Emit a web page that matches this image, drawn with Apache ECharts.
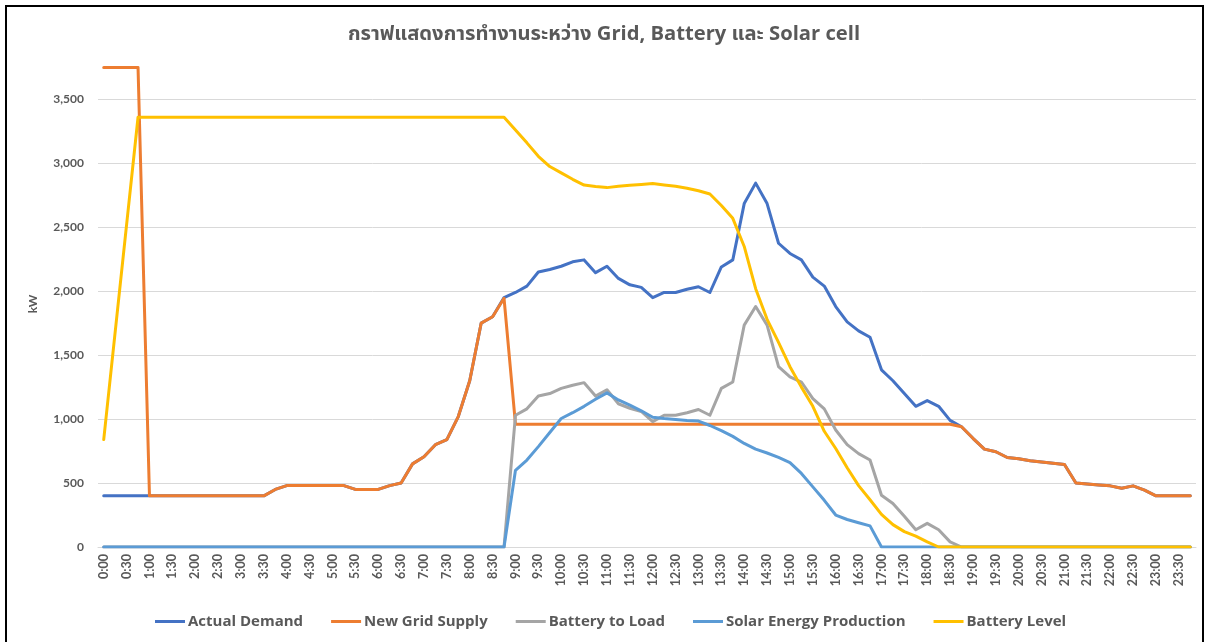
<!DOCTYPE html>
<html>
<head>
<meta charset="utf-8">
<script src="https://cdn.jsdelivr.net/npm/echarts@6/dist/echarts.min.js"></script>
<style>
html,body{margin:0;padding:0;background:#fff;}
#chart{width:1208px;height:642px;}
</style>
</head>
<body>
<div id="chart"></div>
<script>
const categories = ["0:00","0:15","0:30","0:45","1:00","1:15","1:30","1:45","2:00","2:15","2:30","2:45","3:00","3:15","3:30","3:45","4:00","4:15","4:30","4:45","5:00","5:15","5:30","5:45","6:00","6:15","6:30","6:45","7:00","7:15","7:30","7:45","8:00","8:15","8:30","8:45","9:00","9:15","9:30","9:45","10:00","10:15","10:30","10:45","11:00","11:15","11:30","11:45","12:00","12:15","12:30","12:45","13:00","13:15","13:30","13:45","14:00","14:15","14:30","14:45","15:00","15:15","15:30","15:45","16:00","16:15","16:30","16:45","17:00","17:15","17:30","17:45","18:00","18:15","18:30","18:45","19:00","19:15","19:30","19:45","20:00","20:15","20:30","20:45","21:00","21:15","21:30","21:45","22:00","22:15","22:30","22:45","23:00","23:15","23:30","23:45"];

const gridSupply = [3750,3750,3750,3750,400,400,400,400,400,400,400,400,400,400,400,450,480,480,480,480,480,480,450,450,450,480,500,650,705,800,840,1020,1300,1750,1800,1945,
960,960,960,960,960,960,960,960,960,960,960,960,960,960,960,960,960,960,960,960,960,960,960,960,960,960,960,960,960,960,960,960,960,960,960,960,960,960,960,
940,850,765,745,700,690,675,665,655,645,500,492,485,478,460,478,445,400,400,400,400];

const actualDemand = [400,400,400,400,400,400,400,400,400,400,400,400,400,400,400,450,480,480,480,480,480,480,450,450,450,480,500,650,705,800,840,1020,1300,1750,1800,1950,
1990,2040,2150,2170,2195,2230,2245,2145,2195,2100,2050,2030,1950,1990,1990,2015,2035,1990,2190,2245,2685,2845,2685,2375,2295,2245,2110,2040,1880,1760,1690,1640,1385,1300,1200,1100,1145,1100,990,
940,850,765,745,700,690,675,665,655,645,500,492,485,478,460,478,445,400,400,400,400];

const batteryToLoad = [0,0,0,0,0,0,0,0,0,0,0,0,0,0,0,0,0,0,0,0,0,0,0,0,0,0,0,0,0,0,0,0,0,0,0,0,
1030,1080,1180,1200,1240,1265,1285,1180,1230,1120,1085,1060,980,1030,1030,1050,1075,1030,1240,1290,1735,1880,1735,1410,1330,1290,1160,1080,915,800,730,680,405,340,240,135,185,135,40,
0,0,0,0,0,0,0,0,0,0,0,0,0,0,0,0,0,0,0,0,0];

const solarProduction = [0,0,0,0,0,0,0,0,0,0,0,0,0,0,0,0,0,0,0,0,0,0,0,0,0,0,0,0,0,0,0,0,0,0,0,0,
600,680,785,895,1005,1050,1100,1155,1205,1150,1110,1065,1015,1005,997,990,985,950,910,865,810,765,735,700,660,575,470,365,250,215,190,165,
0,0,0,0,0,0,0,0,0,0,0,0,0,0,0,0,0,0,0,0,0,0,0,0,0,0,0,0];

const batteryLevel = [840,1680,2520,3360,3360,3360,3360,3360,3360,3360,3360,3360,3360,3360,3360,3360,3360,3360,3360,3360,3360,3360,3360,3360,3360,3360,3360,3360,3360,3360,3360,3360,3360,3360,3360,3360,
3260,3160,3055,2975,2925,2875,2830,2818,2810,2820,2828,2835,2842,2830,2820,2805,2785,2760,2670,2570,2350,2020,1780,1600,1410,1250,1100,905,770,620,480,370,255,175,120,85,40,
0,0,0,0,0,0,0,0,0,0,0,0,0,0,0,0,0,0,0,0,0,0,0];

const seriesNames = ["Actual Demand","New Grid Supply","Battery to Load","Solar Energy Production","Battery Level"];
const seriesColors = ["#4472C4","#ED7D31","#A5A5A5","#5B9BD5","#FFC000"];
const seriesData = [actualDemand, gridSupply, batteryToLoad, solarProduction, batteryLevel];

const yTicks = {min: 0, max: 3800, interval: 500};

const chart = echarts.init(document.getElementById('chart'));
const txt = '#595959';
const fontFam = "Lato, 'Noto Sans', 'Noto Sans Thai', 'DejaVu Sans', sans-serif";
const fontWide = "'Open Sans', 'Noto Sans', 'Noto Sans Thai', 'DejaVu Sans', sans-serif";
chart.setOption({
  animation: false,
  backgroundColor: '#fff',
  textStyle: {fontFamily: fontFam},
  title: {
    text: 'กราฟแสดงการทำงานระหว่าง Grid, Battery และ Solar cell',
    left: 'center', top: 19,
    textStyle: {fontSize: 20.2, fontWeight: 'bold', color: txt, fontFamily: fontWide}
  },
  graphic: [{
    type: 'rect', z: 100, silent: true,
    shape: {x: 6, y: 6, width: 1197, height: 700},
    style: {fill: 'none', stroke: '#000', lineWidth: 2}
  }],
  legend: {
    top: 609, left: 150,
    icon: 'rect', itemWidth: 30, itemHeight: 3, itemGap: 28,
    textStyle: {fontSize: 15, fontWeight: 'bold', color: txt, fontFamily: fontWide, padding: [0,0,0,-2]},
    data: seriesNames
  },
  grid: {left: 98, right: 12, top: 61, bottom: 95},
  xAxis: {
    type: 'category', boundaryGap: true, data: categories,
    axisLine: {lineStyle: {color: '#d9d9d9', width: 1}},
    axisTick: {show: false},
    axisLabel: {interval: 1, rotate: 90, margin: 7, fontSize: 12.5, fontWeight: 'bold', color: txt, fontFamily: fontFam}
  },
  yAxis: {
    type: 'value', min: yTicks.min, max: yTicks.max, interval: yTicks.interval,
    name: 'kW', nameLocation: 'middle', nameRotate: 90, nameGap: 59,
    nameTextStyle: {fontSize: 12, fontWeight: 'bold', color: txt, fontFamily: fontFam},
    axisLine: {show: false}, axisTick: {show: false},
    axisLabel: {showMaxLabel: false, margin: 14, fontSize: 12, fontWeight: 'bold', color: txt, fontFamily: fontFam,
      formatter: v => v.toLocaleString('en-US')},
    splitLine: {show: true, showMaxLine: false, lineStyle: {color: '#d9d9d9', width: 1}}
  },
  series: seriesNames.map((n, k) => ({
    name: n, type: 'line', data: seriesData[k], symbol: 'none',
    lineStyle: {width: 3, color: seriesColors[k], join: 'round', cap: 'round'},
    itemStyle: {color: seriesColors[k]}
  }))
});
</script>
</body>
</html>
